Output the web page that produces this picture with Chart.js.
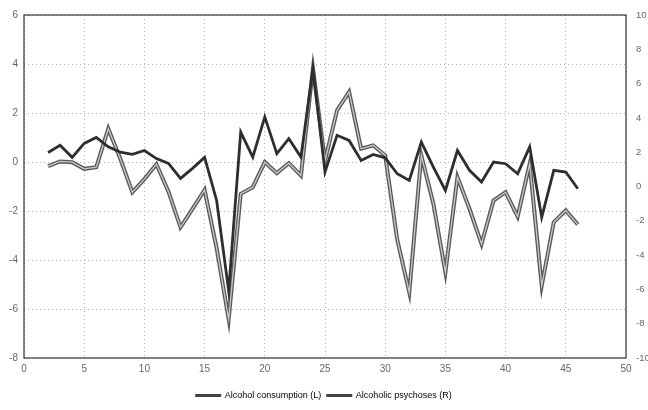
<!DOCTYPE html>
<html><head><meta charset="utf-8">
<script src="https://cdn.jsdelivr.net/npm/chart.js@4"></script>
<style>html,body{margin:0;padding:0;background:#fff}#wrap{width:648px;height:410px}</style>
</head><body><div id="wrap"><canvas id="c" width="648" height="410"></canvas></div>
<script>
const xValues = [2,3,4,5,6,7,8,9,10,11,12,13,14,15,16,17,18,19,20,21,22,23,24,25,26,27,28,29,30,31,32,33,34,35,36,37,38,39,40,41,42,43,44,45,46];
const consumption = [0.39,0.68,0.19,0.76,1.0,0.62,0.4,0.31,0.47,0.14,-0.06,-0.67,-0.26,0.19,-1.57,-5.26,1.22,0.2,1.84,0.34,0.95,0.2,3.82,-0.41,1.09,0.88,0.06,0.31,0.17,-0.48,-0.75,0.81,-0.21,-1.16,0.47,-0.34,-0.82,0.0,-0.07,-0.48,0.62,-2.26,-0.34,-0.41,-1.09];
const psychoses = [1.19,1.46,1.42,1.03,1.13,3.37,1.62,-0.33,0.43,1.3,-0.3,-2.38,-1.31,-0.2,-3.6,-7.74,-0.43,-0.04,1.42,0.78,1.36,0.64,6.88,1.5,4.44,5.52,2.2,2.4,1.81,-3.1,-6.18,1.81,-1.0,-5.01,0.54,-1.3,-3.35,-0.82,-0.33,-1.75,1.33,-5.79,-2.08,-1.4,-2.22];
const xTicks = [0,5,10,15,20,25,30,35,40,45,50];
const leftTicks = [6,4,2,0,-2,-4,-6,-8];
const rightTicks = [10,8,6,4,2,0,-2,-4,-6,-8,-10];

const pts = (vals) => xValues.map((x,i)=>({x:x,y:vals[i]}));
const frame = {id:'frame',afterDraw(ch){const a=ch.chartArea,c=ch.ctx;c.save();c.strokeStyle='#333';c.lineWidth=1.2;c.strokeRect(a.left,a.top,a.right-a.left,a.bottom-a.top);c.restore();}};
const tickFont = {family:'Liberation Sans',size:10};
new Chart(document.getElementById('c'),{
  type:'line',
  data:{datasets:[
    {label:'Alcohol consumption (L)',data:pts(consumption),yAxisID:'y',borderColor:'#2e2e2e',borderWidth:2.8,pointRadius:0,tension:0,order:1},
    {label:'Alcoholic psychoses (R)',data:pts(psychoses),yAxisID:'y1',borderColor:'#5a5a5a',borderWidth:4,pointRadius:0,tension:0,order:3},
    {label:'_inner',data:pts(psychoses),yAxisID:'y1',borderColor:'#c8c8c8',borderWidth:1.3,pointRadius:0,tension:0,order:2}
  ]},
  options:{responsive:false,animation:false,
    layout:{padding:{top:15,left:0,right:0,bottom:0}},
    plugins:{legend:{position:'bottom',labels:{boxWidth:24,boxHeight:1,padding:6,color:'#666',font:{family:'Liberation Sans',size:9},
       generateLabels:(ch)=>ch.data.datasets.filter(d=>d.label!=='_inner').map((d,i)=>({text:d.label,fillStyle:'#444',strokeStyle:'#444',lineWidth:2,datasetIndex:i,hidden:false}))}},tooltip:{enabled:false}},
    scales:{
      x:{type:'linear',min:0,max:50,afterBuildTicks:(s)=>{s.ticks=xTicks.map(v=>({value:v}));},
         grid:{color:'#b0b0b0',lineWidth:1,drawTicks:false},border:{display:false,dash:[1,3]},
         ticks:{color:'#666',font:tickFont,padding:5},afterFit:(s)=>{s.height=27;}},
      y:{position:'left',min:-8,max:6,afterBuildTicks:(s)=>{s.ticks=leftTicks.map(v=>({value:v}));},
         grid:{color:'#b0b0b0',lineWidth:1,drawTicks:false},border:{display:false,dash:[1,3]},
         ticks:{color:'#666',font:tickFont,padding:6},afterFit:(s)=>{s.width=24;}},
      y1:{position:'right',min:-10,max:10,afterBuildTicks:(s)=>{s.ticks=rightTicks.map(v=>({value:v}));},
         grid:{display:false},border:{display:false},
         ticks:{color:'#666',font:{family:'Liberation Sans',size:9.5},padding:2},afterFit:(s)=>{s.width=22;}}
    }
  },
  plugins:[frame]
});
</script></body></html>
